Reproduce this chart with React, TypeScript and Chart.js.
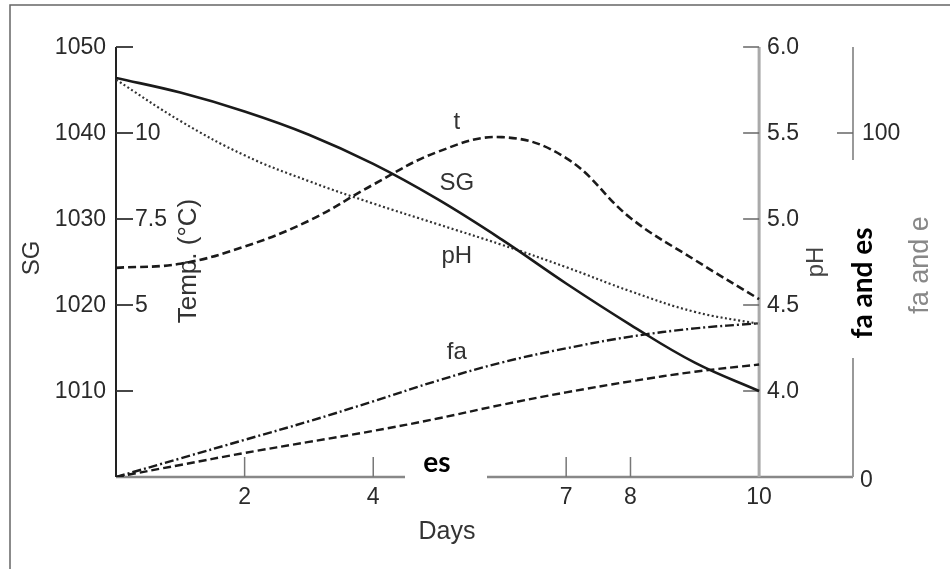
import React, { useEffect, useRef } from "react";
import { Chart, registerables } from "chart.js";

Chart.register(...registerables);

// ---- data ----
const days = [0, 1, 2, 3, 4, 5, 6, 7, 8, 9, 10];
const sgValues = [1046.4, 1044.7, 1042.5, 1039.8, 1036.4, 1032.3, 1027.6, 1022.5, 1017.7, 1013.3, 1010.0];
const tempValues = [6.08, 6.2, 6.7, 7.45, 8.5, 9.45, 9.88, 9.27, 7.53, 6.31, 5.17];
const phValues = [5.81, 5.57, 5.37, 5.22, 5.09, 4.97, 4.85, 4.72, 4.58, 4.46, 4.39];
const faValues = [0, 5.4, 10.8, 16.2, 22.0, 28.0, 33.3, 37.4, 40.8, 43.2, 44.7];
const eValues = [0, 3.5, 7.0, 10.2, 13.4, 17.0, 21.0, 24.6, 27.8, 30.6, 32.7];

const dayTicks = [2, 4, 7, 8, 10];
const sgTicks = [1010, 1020, 1030, 1040, 1050];
const tempTicks = [5, 7.5, 10];
const phTicks = [4.0, 4.5, 5.0, 5.5, 6.0];
const faTicks = [0, 100];

const FONT = '"Liberation Sans", Arial, sans-serif';

const pts = (ys: number[]) => days.map((d, i) => ({ x: d, y: ys[i] }));

const drawPlugin = {
  id: "customAxes",
  beforeDatasetsDraw(chart: any) {
    const ctx: CanvasRenderingContext2D = chart.ctx;
    const { left, right, top, bottom } = chart.chartArea;
    const xs = chart.scales.x;
    const ySG = chart.scales.ySG;
    const yT = chart.scales.yT;
    const ypH = chart.scales.ypH;
    const yFa = chart.scales.yFa;
    ctx.save();

    // frame (top + left)
    ctx.strokeStyle = "#666";
    ctx.lineWidth = 1.5;
    ctx.beginPath();
    ctx.moveTo(10, 569);
    ctx.lineTo(10, 5);
    ctx.lineTo(950, 5);
    ctx.stroke();

    // left SG axis
    ctx.strokeStyle = "#222";
    ctx.lineWidth = 2;
    ctx.beginPath();
    ctx.moveTo(left, ySG.getPixelForValue(1050));
    ctx.lineTo(left, bottom);
    ctx.stroke();

    ctx.font = `23px ${FONT}`;
    ctx.fillStyle = "#2a2a2a";
    ctx.textBaseline = "middle";
    for (const v of sgTicks) {
      const y = ySG.getPixelForValue(v);
      ctx.strokeStyle = "#333";
      ctx.lineWidth = 1.8;
      ctx.beginPath();
      ctx.moveTo(left, y);
      ctx.lineTo(left + 17, y);
      ctx.stroke();
      ctx.textAlign = "right";
      ctx.fillText(String(v), left - 10, y + 1);
    }
    for (const v of tempTicks) {
      const y = yT.getPixelForValue(v);
      ctx.textAlign = "left";
      ctx.fillText(String(v), left + 19, y + 1);
    }

    // x axis
    ctx.strokeStyle = "#888";
    ctx.lineWidth = 2.5;
    ctx.beginPath();
    ctx.moveTo(left, bottom);
    ctx.lineTo(right, bottom);
    ctx.stroke();
    for (const d of dayTicks) {
      const x = xs.getPixelForValue(d);
      ctx.strokeStyle = "#777";
      ctx.lineWidth = 1.5;
      ctx.beginPath();
      ctx.moveTo(x, bottom);
      ctx.lineTo(x, bottom - 20);
      ctx.stroke();
      ctx.textAlign = "center";
      ctx.fillText(String(d), x, bottom + 21);
    }

    // pH axis at day 10
    const px = xs.getPixelForValue(10);
    ctx.strokeStyle = "#aaa";
    ctx.lineWidth = 3;
    ctx.beginPath();
    ctx.moveTo(px, ypH.getPixelForValue(6.0));
    ctx.lineTo(px, bottom);
    ctx.stroke();
    for (const v of phTicks) {
      const y = ypH.getPixelForValue(v);
      ctx.strokeStyle = "#666";
      ctx.lineWidth = 1.5;
      ctx.beginPath();
      ctx.moveTo(px - 16, y);
      ctx.lineTo(px, y);
      ctx.stroke();
      ctx.textAlign = "left";
      ctx.fillText(v.toFixed(1), px + 8, y + 1);
    }

    // far right fa and e axis
    ctx.strokeStyle = "#999";
    ctx.lineWidth = 2;
    ctx.beginPath();
    ctx.moveTo(right, top);
    ctx.lineTo(right, bottom);
    ctx.stroke();
    for (const v of faTicks) {
      const y = yFa.getPixelForValue(v);
      if (v > 0) {
        ctx.strokeStyle = "#666";
        ctx.lineWidth = 1.5;
        ctx.beginPath();
        ctx.moveTo(right - 16, y);
        ctx.lineTo(right, y);
        ctx.stroke();
        ctx.textAlign = "left";
        ctx.fillText(String(v), right + 9, y + 1);
      } else {
        ctx.textAlign = "left";
        ctx.fillText(String(v), right + 7, y + 4);
      }
    }

    // titles
    ctx.fillStyle = "#333";
    ctx.textAlign = "center";
    ctx.font = `25px ${FONT}`;
    ctx.fillText("Days", 447, 532);

    const vText = (txt: string, x: number, y: number, size: number, color: string) => {
      ctx.save();
      ctx.translate(x, y);
      ctx.rotate(-Math.PI / 2);
      ctx.font = `${size}px ${FONT}`;
      ctx.fillStyle = color;
      ctx.textAlign = "center";
      ctx.textBaseline = "middle";
      ctx.fillText(txt, 0, 0);
      ctx.restore();
    };
    vText("SG", 32, 258, 24, "#333");
    vText("Temp. (°C)", 189, 261, 26, "#333");
    vText("pH", 816, 262, 24, "#444");
    vText("fa and e", 921, 265, 27, "#888");

    // curve labels (data coordinates)
    ctx.font = `24px ${FONT}`;
    ctx.fillStyle = "#333";
    ctx.textAlign = "center";
    ctx.textBaseline = "middle";
    ctx.fillText("t", xs.getPixelForValue(5.3), yT.getPixelForValue(10.3));
    ctx.fillText("SG", xs.getPixelForValue(5.3), ySG.getPixelForValue(1034.2));
    ctx.fillText("pH", xs.getPixelForValue(5.3), ypH.getPixelForValue(4.78));
    ctx.fillText("fa", xs.getPixelForValue(5.3), yFa.getPixelForValue(36.3));
    ctx.fillText("e", xs.getPixelForValue(5.3), yFa.getPixelForValue(10.0));

    ctx.restore();
  },
  afterDraw(chart: any) {
    const ctx: CanvasRenderingContext2D = chart.ctx;
    ctx.save();
    ctx.fillStyle = "#fff";
    ctx.fillRect(405, 432, 82, 51);
    ctx.fillRect(848, 160, 32, 198);

    ctx.fillStyle = "#000";
    ctx.font = `bold 28px Lato, "Open Sans", sans-serif`;
    ctx.textAlign = "center";
    ctx.textBaseline = "middle";
    ctx.fillText("es", 437, 463);
    ctx.translate(863, 283);
    ctx.rotate(-Math.PI / 2);
    ctx.fillText("fa and es", 0, 0);
    ctx.restore();
  },
};

export default function App() {
  const ref = useRef<HTMLCanvasElement | null>(null);
  useEffect(() => {
    document.body.style.margin = "0";
    if (!ref.current) return;
    const line = "#1a1a1a";
    const chart = new Chart(ref.current, {
      type: "line",
      data: {
        datasets: [
          { label: "SG", data: pts(sgValues), yAxisID: "ySG", borderColor: line, borderWidth: 2.6 },
          { label: "t", data: pts(tempValues), yAxisID: "yT", borderColor: line, borderWidth: 2.6, borderDash: [8, 4] },
          { label: "pH", data: pts(phValues), yAxisID: "ypH", borderColor: "#333", borderWidth: 2.2, borderDash: [2, 2.5] },
          { label: "fa", data: pts(faValues), yAxisID: "yFa", borderColor: line, borderWidth: 2.4, borderDash: [9, 3, 2, 3] },
          { label: "e", data: pts(eValues), yAxisID: "yFa", borderColor: line, borderWidth: 2.4, borderDash: [8, 4] },
        ] as any,
      },
      options: {
        responsive: false,
        animation: false,
        devicePixelRatio: 1,
        layout: { padding: { left: 116, right: 97, top: 47, bottom: 92 } },
        elements: {
          point: { radius: 0 },
          line: { tension: 0.4, fill: false },
        },
        plugins: { legend: { display: false }, tooltip: { enabled: false } },
        scales: {
          x: { type: "linear", min: 0, max: 11.46, display: false },
          ySG: { type: "linear", min: 1000, max: 1050, display: false },
          yT: { type: "linear", min: 0, max: 12.5, display: false },
          ypH: { type: "linear", min: 3.5, max: 6.0, display: false },
          yFa: { type: "linear", min: 0, max: 125, display: false },
        },
      } as any,
      plugins: [drawPlugin],
    });
    return () => chart.destroy();
  }, []);
  return (
    <div style={{ position: "absolute", left: 0, top: 0, width: 950, height: 569, background: "#fff" }}>
      <canvas ref={ref} width={950} height={569} />
    </div>
  );
}
